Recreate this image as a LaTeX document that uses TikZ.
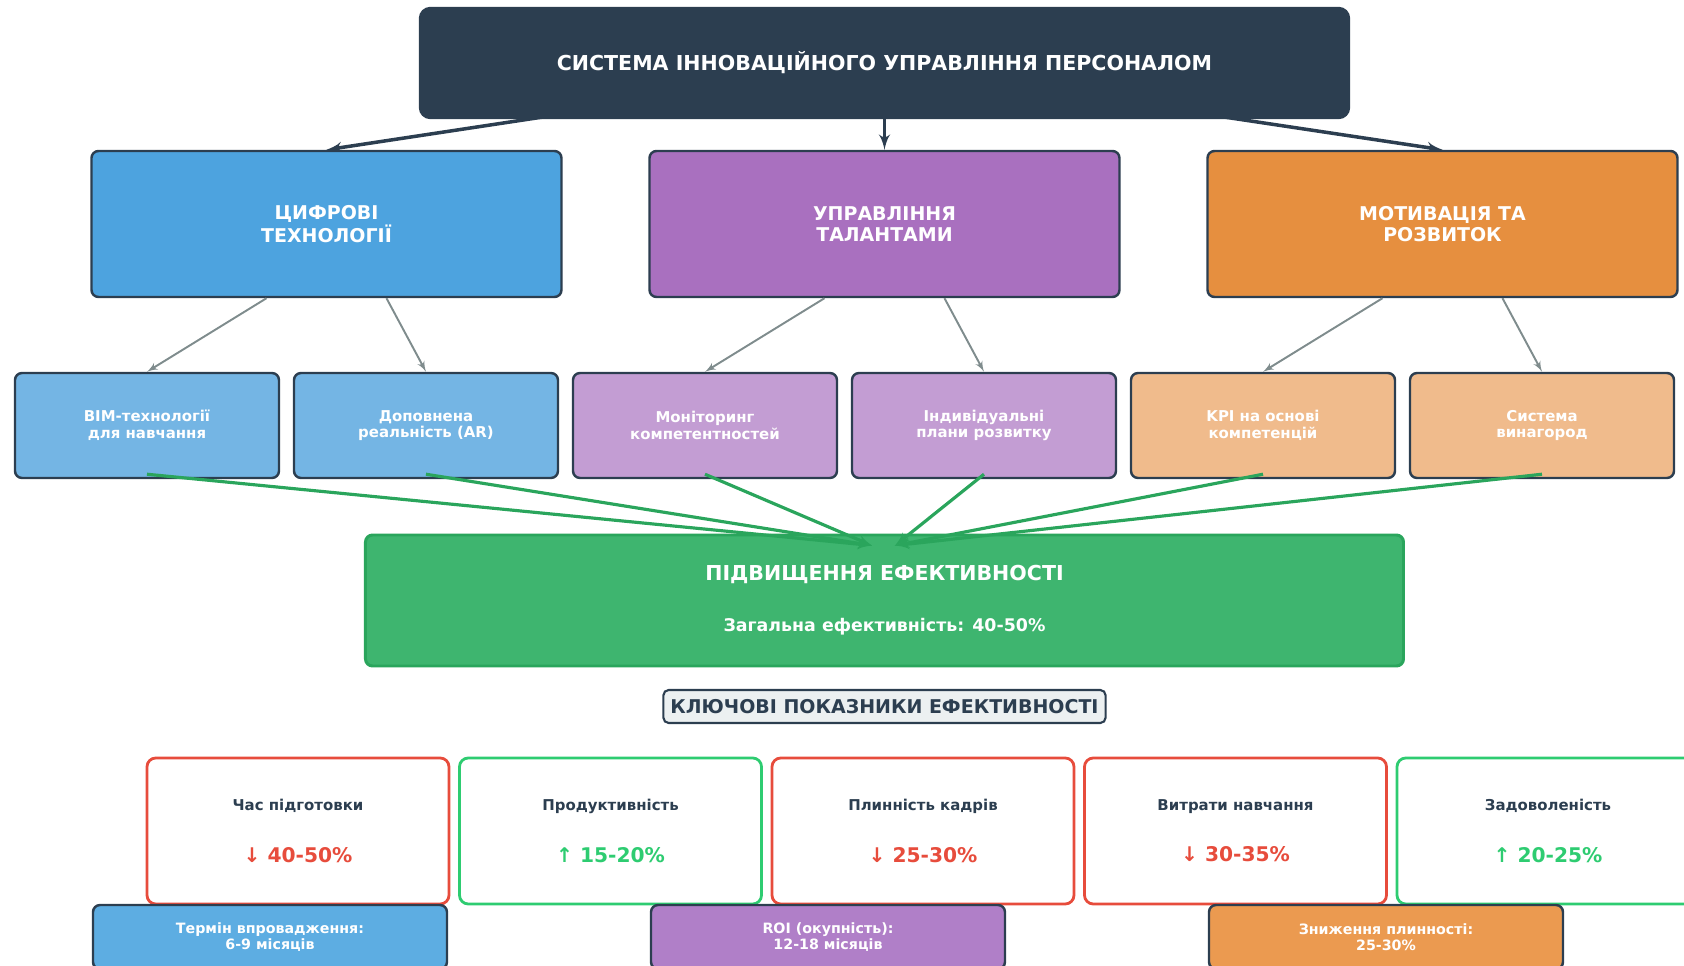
\documentclass[tikz,border=0pt]{standalone}
\usepackage{fontspec}
\setmainfont{DejaVu Sans}
\usetikzlibrary{arrows,positioning,calc,backgrounds}

\definecolor{navy}{HTML}{2C3E50}
\definecolor{digblue}{HTML}{4DA3DF}
\definecolor{talpurple}{HTML}{A970BF}
\definecolor{motorange}{HTML}{E68F3F}
\definecolor{digblueL}{HTML}{74B5E4}
\definecolor{talpurpleL}{HTML}{C39DD3}
\definecolor{motorangeL}{HTML}{F0BB8C}
\definecolor{effgreen}{HTML}{3EB56F}
\definecolor{effedge}{HTML}{2AA55C}
\definecolor{arrgrey}{HTML}{7F8C8D}
\definecolor{downred}{HTML}{E74C3C}
\definecolor{upgreen}{HTML}{2ECC71}
\definecolor{keybg}{HTML}{ECF0F1}
\definecolor{footblue}{HTML}{5DADE2}
\definecolor{footpurple}{HTML}{B07FC8}
\definecolor{footorange}{HTML}{EB9A50}

\tikzset{
  box/.style={draw=navy,line width=1.4pt,rounded corners=4pt,align=center,
              text=white,font=\bfseries},
  headbox/.style={box,fill=navy,rounded corners=6pt,minimum width=18.58cm,
                  minimum height=2.2cm,font=\bfseries\fontsize{11.7}{14}\selectfont},
  areabox/.style={box,minimum width=9.4cm,minimum height=2.92cm,
                  font=\bfseries\fontsize{10.8}{11.5}\selectfont},
  toolbox/.style={box,minimum width=5.28cm,minimum height=2.1cm,
                  font=\bfseries\fontsize{8.5}{9.5}\selectfont},
  metricbox/.style={draw=#1,line width=1.6pt,fill=white,rounded corners=5pt,
                    minimum width=6.04cm,minimum height=2.92cm,align=center},
  footbox/.style={box,minimum width=7.08cm,minimum height=1.28cm,
                  font=\bfseries\fontsize{8.1}{9}\selectfont},
  toparr/.style={->,draw=navy,line width=2pt},
  subarr/.style={->,draw=arrgrey,line width=1.1pt},
  effarr/.style={->,draw=effedge,line width=1.8pt},
}

\newcommand{\metric}[3]{{\bfseries\fontsize{8.5}{10}\selectfont\color{navy}#1}\\[0.6cm]
  {\bfseries\fontsize{11.5}{14}\selectfont\color{#3}#2}}

\begin{document}
\begin{tikzpicture}[>=latex',node distance=3cm,on grid]
  \clip (-17.69,1.26) rectangle (15.99,-18.06);

  \node[headbox] (title) at (0,0) {СИСТЕМА ІННОВАЦІЙНОГО УПРАВЛІННЯ ПЕРСОНАЛОМ};

  \node[areabox,fill=talpurple] (talent) [below=3.22cm of title] {УПРАВЛІННЯ\\ТАЛАНТАМИ};
  \node[areabox,fill=digblue] (digital) [left=11.16cm of talent] {ЦИФРОВІ\\ТЕХНОЛОГІЇ};
  \node[areabox,fill=motorange] (motiv) [right=11.16cm of talent] {МОТИВАЦІЯ ТА\\РОЗВИТОК};

  \node[toolbox,fill=digblueL] (bim) at (-14.75,-7.25) {BIM-технології\\для навчання};
  \node[toolbox,fill=digblueL] (ar) [right=5.58cm of bim] {Доповнена\\реальність (AR)};
  \node[toolbox,fill=talpurpleL] (monit) [right=5.58cm of ar] {Моніторинг\\компетентностей};
  \node[toolbox,fill=talpurpleL] (plans) [right=5.58cm of monit] {Індивідуальні\\плани розвитку};
  \node[toolbox,fill=motorangeL] (kpi) [right=5.58cm of plans] {KPI на основі\\компетенцій};
  \node[toolbox,fill=motorangeL] (reward) [right=5.58cm of kpi] {Система\\винагород};

  \node[box,draw=effedge,line width=1.7pt,fill=effgreen,minimum width=20.76cm,
        minimum height=2.62cm] (eff) [below=7.53cm of talent]
        {\fontsize{11.7}{13}\selectfont ПІДВИЩЕННЯ ЕФЕКТИВНОСТІ\\[0.6cm]
         \fontsize{9.9}{11}\selectfont Загальна ефективність: 40-50\%};

  \node[draw=navy,line width=1.2pt,fill=keybg,rounded corners=3pt,text=navy,
        font=\bfseries\fontsize{10.8}{12}\selectfont,minimum height=0.66cm,
        inner xsep=4pt] (key) [below=2.12cm of eff] {КЛЮЧОВІ ПОКАЗНИКИ ЕФЕКТИВНОСТІ};

  % key indicators
  \node[metricbox=downred] (turnover) [below=2.49cm of key,xshift=0.77cm]
        {\metric{Плинність кадрів}{↓ 25-30\%}{downred}};
  \node[metricbox=upgreen] (product) [left=6.25cm of turnover]
        {\metric{Продуктивність}{↑ 15-20\%}{upgreen}};
  \node[metricbox=downred] (prep) [left=6.25cm of product]
        {\metric{Час підготовки}{↓ 40-50\%}{downred}};
  \node[metricbox=downred] (costs) [right=6.25cm of turnover]
        {\metric{Витрати навчання}{↓ 30-35\%}{downred}};
  \node[metricbox=upgreen] (satisf) [right=6.25cm of costs]
        {\metric{Задоволеність}{↑ 20-25\%}{upgreen}};

  \node[footbox,fill=footblue] (term) [below=2.12cm of prep,xshift=-0.56cm]
        {Термін впровадження:\\6-9 місяців};
  \node[footbox,fill=footpurple] (roi) [right=11.16cm of term]
        {ROI (окупність):\\12-18 місяців};
  \node[footbox,fill=footorange] (drop) [right=11.16cm of roi]
        {Зниження плинності:\\25-30\%};

  \begin{scope}[on background layer]
    \draw[toparr] ([xshift=-5.67cm,yshift=0.22cm]title.south) -- (digital.north);
    \draw[toparr] (title.center) -- (talent.north);
    \draw[toparr] ([xshift=5.62cm,yshift=0.22cm]title.south) -- (motiv.north);
  \end{scope}

  \draw[subarr] ([xshift=-1.2cm]digital.south) -- (bim.north);
  \draw[subarr] ([xshift=1.2cm]digital.south) -- (ar.north);
  \draw[subarr] ([xshift=-1.2cm]talent.south) -- (monit.north);
  \draw[subarr] ([xshift=1.2cm]talent.south) -- (plans.north);
  \draw[subarr] ([xshift=-1.2cm]motiv.south) -- (kpi.north);
  \draw[subarr] ([xshift=1.2cm]motiv.south) -- (reward.north);

  \foreach \src in {bim,ar,monit}
    \draw[effarr] ([yshift=0.1cm]\src.south) -- ([xshift=-0.25cm,yshift=-0.24cm]eff.north);
  \foreach \src in {plans,kpi,reward}
    \draw[effarr] ([yshift=0.1cm]\src.south) -- ([xshift=0.21cm,yshift=-0.24cm]eff.north);
\end{tikzpicture}
\end{document}
